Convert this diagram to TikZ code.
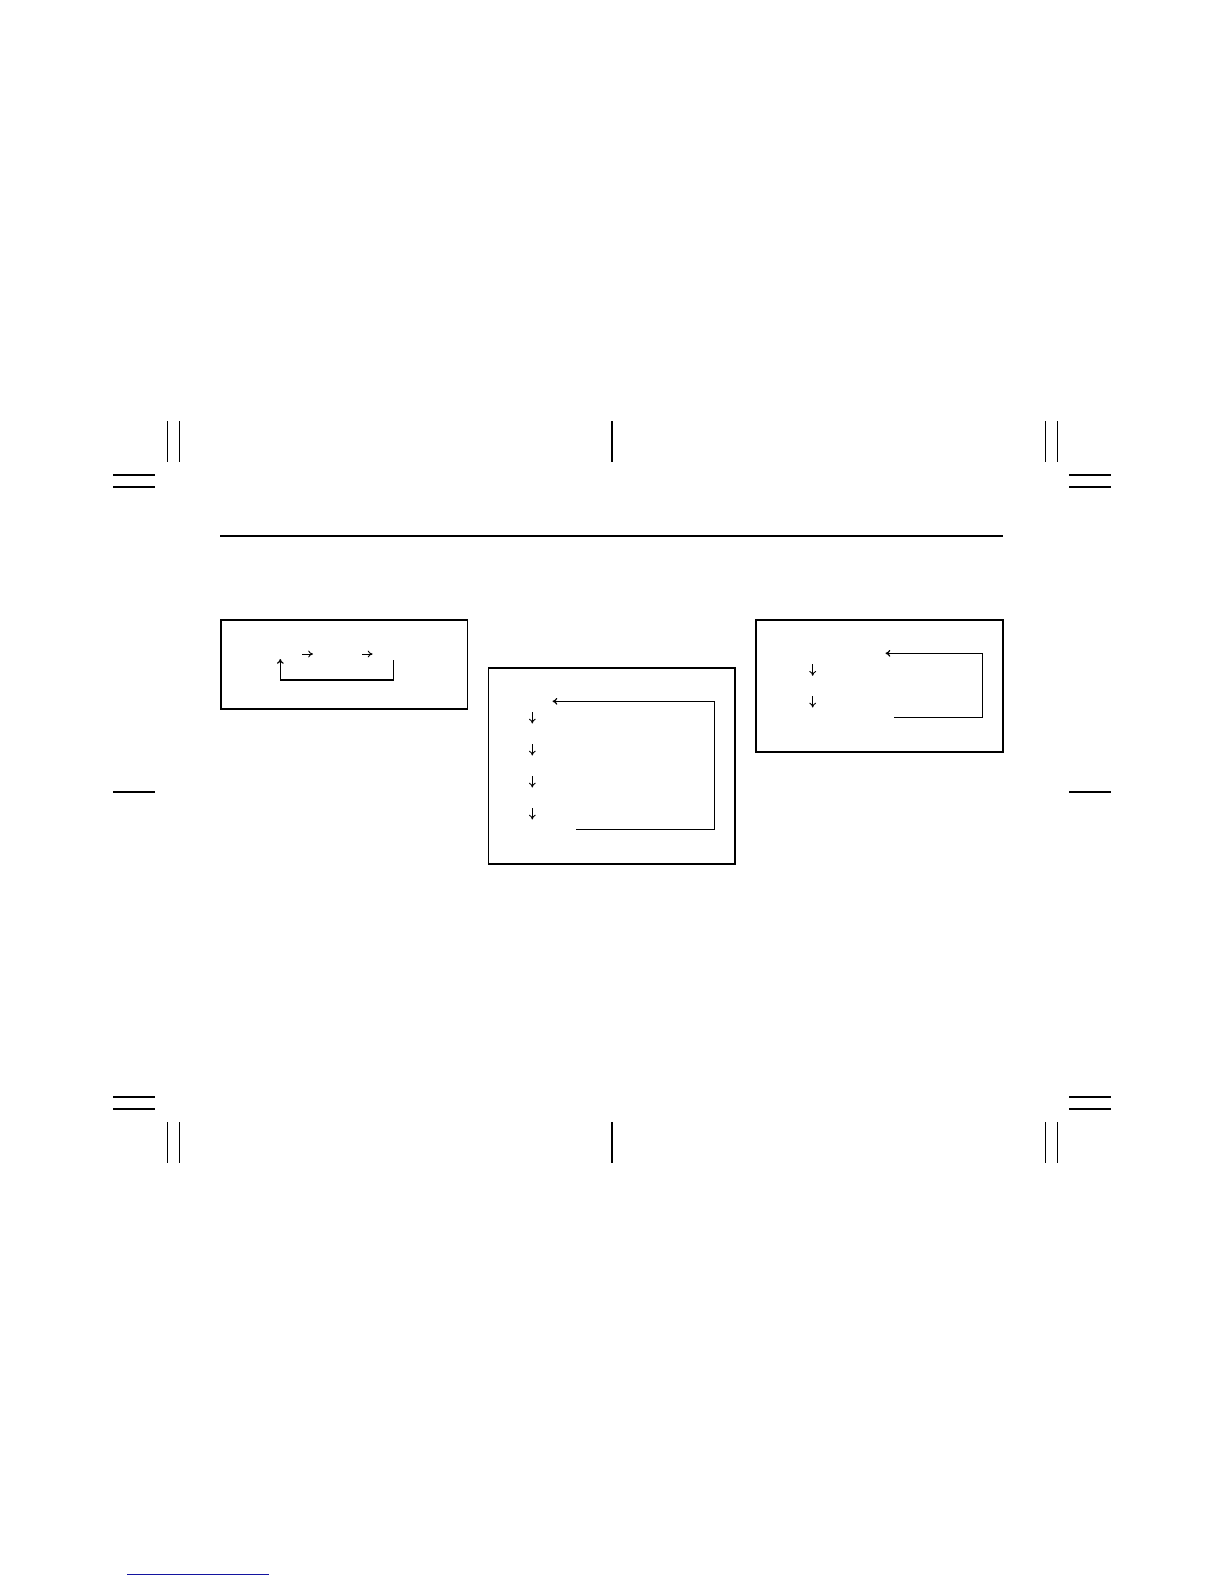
\documentclass[tikz,border=0pt]{standalone}
\usepackage{xcolor}
\usepackage{tikz}
\usetikzlibrary{arrows.meta, positioning, calc}

\definecolor{linkblue}{RGB}{20,20,160}

\begin{document}
\begin{tikzpicture}[x=0.5pt, y=-0.5pt,
    cropmark/.style={line width=0.55pt},
    panel/.style={line width=0.8pt},
    loopline/.style={line width=0.6pt},
    flow/.style={line width=0.45pt, -{To[length=2.4pt, width=3.4pt]}}]

  % Page
  \useasboundingbox (0,0) rectangle (1224,1584);

  % --- 1. Crop marks ---
  \foreach \x in {167.5, 179.5, 612, 1045.5, 1057.5} {
    \draw[cropmark] (\x,421) -- (\x,462);
    \draw[cropmark] (\x,1122) -- (\x,1163);
  }
  \foreach \y in {475, 487, 792, 1097, 1109} {
    \draw[cropmark] (113,\y) -- (155,\y);
    \draw[cropmark] (1069,\y) -- (1111,\y);
  }

  % Header rule
  \draw[line width=1.2pt] (220,535.7) -- (1002.7,535.7);

  % --- 2. Panels ---
  \draw[panel] (221,620) rectangle (467.5,709);
  \draw[panel] (488.5,668) rectangle (735,864);
  \draw[panel] (756,620) rectangle (1003,752);

  % --- 3. Left panel: two steps and a loop back ---
  \draw[flow] (302,654) -- (313,654);
  \draw[flow] (362,654) -- (372.5,654);
  \coordinate (l-out) at (393.3,660);
  \coordinate (l-in) at (280.3,659);
  \draw[loopline, -{To[length=2.4pt, width=3.4pt]}]
    (l-out) -- (393.3,680) -- (280.3,680) -- (l-in);

  % --- 4. Middle panel: four steps and a loop back ---
  \foreach \y in {712, 744, 776, 808}
    \draw[flow] (532.3,\y) -- (532.3,\y+11.5);
  \coordinate (m-out) at (576,829.3);
  \coordinate (m-in) at (552.5,701.3);
  \draw[loopline, -{To[length=2.4pt, width=3.4pt]}]
    (m-out) -- (714.3,829.3) -- (714.3,701.3) -- (m-in);

  % --- 5. Right panel: two steps and a loop back ---
  \foreach \y in {664.3, 696}
    \draw[flow] (812.7,\y) -- (812.7,\y+11.5);
  \coordinate (r-out) at (894,717.3);
  \coordinate (r-in) at (885.5,653.3);
  \draw[loopline, -{To[length=2.4pt, width=3.4pt]}]
    (r-out) -- (982.5,717.3) -- (982.5,653.3) -- (r-in);

  % Footer link line
  \draw[linkblue, line width=0.7pt] (127,1574.7) -- (269,1574.7);

\end{tikzpicture}
\end{document}
